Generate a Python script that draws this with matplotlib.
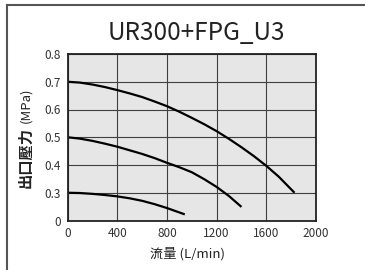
import matplotlib
matplotlib.use("Agg")
import matplotlib.pyplot as plt
from matplotlib.lines import Line2D

plt.rcParams['font.family'] = ['Noto Sans CJK TC', 'DejaVu Sans']

# flow (L/min) vs outlet pressure (MPa)
flow_07 = [0, 100, 200, 300, 400, 500, 600, 700, 800, 900, 1000, 1100, 1200,
           1300, 1400, 1500, 1600, 1700, 1827]
pres_07 = [0.700, 0.697, 0.690, 0.681, 0.670, 0.658, 0.645, 0.629, 0.612,
           0.592, 0.570, 0.547, 0.522, 0.494, 0.464, 0.432, 0.397, 0.358, 0.300]

flow_05 = [0, 100, 200, 300, 400, 500, 600, 700, 800, 900, 1000, 1100, 1200,
           1300, 1400]
pres_05 = [0.500, 0.495, 0.487, 0.477, 0.466, 0.453, 0.440, 0.425, 0.408,
           0.392, 0.374, 0.349, 0.321, 0.288, 0.249]

flow_03 = [0, 100, 200, 300, 400, 500, 600, 700, 800, 944]
pres_03 = [0.300, 0.299, 0.296, 0.292, 0.287, 0.280, 0.271, 0.259, 0.245, 0.222]

xticks = [0, 400, 800, 1200, 1600, 2000]
yticks = [0.2, 0.3, 0.4, 0.5, 0.6, 0.7, 0.8]
ytick_labels = ['0', '0.3', '0.4', '0.5', '0.6', '0.7', '0.8']

W, H = 365, 270
fig = plt.figure(figsize=(W / 100, H / 100), dpi=100)
ax = fig.add_axes([67.5 / W, 1 - 220.5 / H, (316 - 67.5) / W, (220.5 - 54) / H])
ax.set_facecolor('#e6e6e6')

for fx, py in [(flow_07, pres_07), (flow_05, pres_05), (flow_03, pres_03)]:
    ax.plot(fx, py, color='black', lw=1.6, solid_capstyle='butt',
            solid_joinstyle='round')

ax.set_xlim(0, 2000)
ax.set_ylim(0.2, 0.8)
ax.set_xticks(xticks)
ax.set_yticks(yticks)
ax.set_yticklabels(ytick_labels)
ax.tick_params(length=0, labelsize=8.5, colors='#333333', pad=5)
ax.grid(True, color='#404040', lw=0.8)
ax.set_axisbelow(True)
for s in ax.spines.values():
    s.set_color('#222222')
    s.set_linewidth(1.3)

fig.text(196 / W, 1 - 33 / H, 'UR300+FPG_U3', ha='center', va='center',
         fontsize=17.5, color='#222222')

fig.text(187 / W, 1 - 254 / H, '流量 (L/min)', ha='center', va='center',
         fontsize=9.5, color='#222222')

fig.text(25 / W, 1 - 158 / H, '出口壓力', ha='center', va='center', rotation=90,
         fontsize=11, fontweight='bold', color='#222222')
fig.text(26 / W, 1 - 105 / H, '(MPa)', ha='center', va='center', rotation=90,
         fontsize=9.5, color='#222222')

# outer frame (top and left edges only)
fig.add_artist(Line2D([7 / W, 1], [1 - 5 / H, 1 - 5 / H], color='#555555', lw=1.5))
fig.add_artist(Line2D([7 / W, 7 / W], [0, 1 - 5 / H], color='#555555', lw=1.5))

fig.savefig('out.png', dpi=100)
